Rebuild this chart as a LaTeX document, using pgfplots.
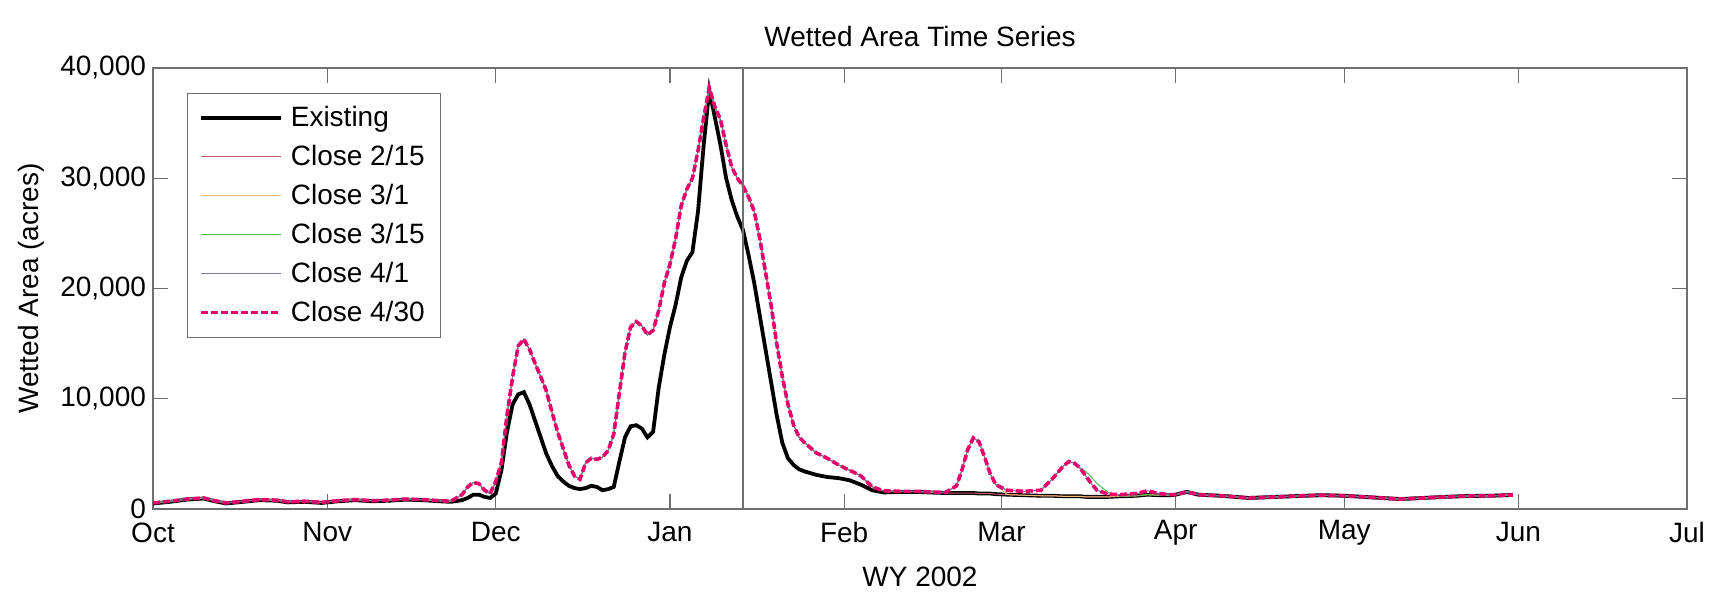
\documentclass[border=0pt]{standalone}
\usepackage{pgfplots}
\pgfplotsset{compat=1.18}
\usepackage{pgfplotstable}
\usepackage{fontspec}
\setmainfont{Liberation Sans}

\definecolor{c0430}{RGB}{230,0,110}
\definecolor{c0215}{RGB}{190,90,110}
\definecolor{c0301}{RGB}{240,190,120}
\definecolor{c0315}{RGB}{80,190,80}
\definecolor{c0401}{RGB}{120,120,150}
\definecolor{axgray}{RGB}{110,110,110}

% day from 1 Oct 2001; E = existing, A..D = close 2/15, 3/1, 3/15, 4/1, P = close 4/30
\pgfplotstableread{
day E A B C D P
0 500 550 550 550 550 550
3 650 700 700 700 700 700
6 850 900 900 900 900 900
9 950 1000 1000 1000 1000 1000
11 700 750 750 750 750 750
13 500 550 550 550 550 550
16 650 700 700 700 700 700
19 800 850 850 850 850 850
22 750 800 800 800 800 800
24 600 650 650 650 650 650
27 650 700 700 700 700 700
30 550 600 600 600 600 600
33 700 750 750 750 750 750
36 800 850 850 850 850 850
39 700 750 750 750 750 750
42 750 800 800 800 800 800
45 850 900 900 900 900 900
48 800 850 850 850 850 850
51 700 750 750 750 750 750
53 650 700 700 700 700 700
55 800 1300 1300 1300 1300 1300
56 1000 2000 2000 2000 2000 2000
57 1300 2400 2400 2400 2400 2400
58 1300 2300 2300 2300 2300 2300
59 1100 1700 1700 1700 1700 1700
60 1000 1400 1400 1400 1400 1400
61 1400 2500 2500 2500 2500 2500
62 3500 4200 4200 4200 4200 4200
63 7000 8500 8500 8500 8500 8500
64 9500 12000 12000 12000 12000 12000
65 10400 14800 14800 14800 14800 14800
66 10600 15400 15400 15400 15400 15400
67 9500 14500 14500 14500 14500 14500
68 8000 13200 13200 13200 13200 13200
69 6500 12000 12000 12000 12000 12000
70 5000 10700 10700 10700 10700 10700
71 3900 8800 8800 8800 8800 8800
72 3000 7000 7000 7000 7000 7000
73 2500 5500 5500 5500 5500 5500
74 2100 4000 4000 4000 4000 4000
75 1900 3000 3000 3000 3000 3000
76 1800 2700 2700 2700 2700 2700
77 1900 4200 4200 4200 4200 4200
78 2100 4600 4600 4600 4600 4600
79 2000 4500 4500 4500 4500 4500
80 1700 4700 4700 4700 4700 4700
81 1800 5300 5300 5300 5300 5300
82 2000 6800 6800 6800 6800 6800
83 4300 10500 10500 10500 10500 10500
84 6500 14200 14200 14200 14200 14200
85 7500 16500 16500 16500 16500 16500
86 7600 17000 17000 17000 17000 17000
87 7300 16600 16600 16600 16600 16600
88 6500 15800 15800 15800 15800 15800
89 7000 16200 16200 16200 16200 16200
90 11000 18000 18000 18000 18000 18000
91 14000 20500 20500 20500 20500 20500
92 16500 22200 22200 22200 22200 22200
93 18500 24500 24500 24500 24500 24500
94 21000 27500 27500 27500 27500 27500
95 22500 29000 29000 29000 29000 29000
96 23300 30000 30000 30000 30000 30000
97 27000 32500 32500 32500 32500 32500
98 33000 35500 35500 35500 35500 35500
99 38000 38200 38200 38200 38200 38200
100 35500 36500 36500 36500 36500 36500
101 33000 35300 35300 35300 35300 35300
102 30000 33000 33000 33000 33000 33000
103 28000 31000 31000 31000 31000 31000
104 26500 30000 30000 30000 30000 30000
105 25300 29300 29300 29300 29300 29300
106 23000 28300 28300 28300 28300 28300
107 20500 27000 27000 27000 27000 27000
108 17500 24500 24500 24500 24500 24500
109 14500 21500 21500 21500 21500 21500
110 11500 18500 18500 18500 18500 18500
111 8500 15000 15000 15000 15000 15000
112 6000 12000 12000 12000 12000 12000
113 4600 9500 9500 9500 9500 9500
114 4000 7600 7600 7600 7600 7600
115 3600 6500 6500 6500 6500 6500
116 3400 6000 6000 6000 6000 6000
118 3100 5100 5100 5100 5100 5100
120 2900 4600 4600 4600 4600 4600
122 2800 4000 4000 4000 4000 4000
124 2600 3500 3500 3500 3500 3500
126 2200 3000 3000 3000 3000 3000
128 1700 2000 2000 2000 2000 2000
130 1500 1650 1650 1650 1650 1650
133 1550 1600 1600 1600 1600 1600
136 1550 1600 1600 1600 1600 1600
138 1500 1500 1550 1550 1550 1550
141 1450 1450 1500 1500 1500 1500
143 1450 1450 2100 2100 2100 2100
144 1450 1450 3600 3600 3600 3600
145 1450 1450 5400 5400 5400 5400
146 1450 1450 6450 6450 6450 6450
147 1400 1400 6100 6100 6100 6100
148 1400 1400 4700 4700 4700 4700
149 1400 1400 3200 3200 3200 3200
150 1350 1350 2200 2200 2200 2200
152 1300 1300 1300 1700 1700 1700
155 1250 1250 1250 1600 1600 1600
158 1200 1200 1200 1700 1700 1700
160 1200 1200 1200 2700 2700 2700
162 1150 1150 1150 3900 3900 3900
163 1150 1150 1150 4300 4300 4300
164 1150 1150 1150 4150 4150 4150
165 1150 1150 1150 3700 3700 3700
166 1100 1100 1100 3400 3000 3000
167 1100 1100 1100 2900 2300 2300
168 1100 1100 1100 2300 1700 1700
170 1100 1100 1100 1500 1350 1350
172 1150 1150 1150 1150 1300 1300
175 1200 1200 1200 1200 1400 1400
177 1300 1300 1300 1300 1650 1650
179 1250 1250 1250 1250 1400 1400
181 1250 1250 1250 1250 1300 1300
182 1300 1300 1300 1300 1300 1300
184 1550 1550 1550 1550 1550 1550
186 1300 1300 1300 1300 1300 1300
190 1200 1200 1200 1200 1200 1200
195 1000 1000 1000 1000 1000 1000
200 1100 1100 1100 1100 1100 1100
205 1200 1200 1200 1200 1200 1200
208 1250 1250 1250 1250 1250 1250
212 1200 1200 1200 1200 1200 1200
217 1050 1050 1050 1050 1050 1050
222 900 900 900 900 900 900
226 1000 1000 1000 1000 1000 1000
230 1100 1100 1100 1100 1100 1100
234 1180 1180 1180 1180 1180 1180
238 1200 1200 1200 1200 1200 1200
242 1270 1270 1270 1270 1270 1270
}\wetted

\begin{document}
\begin{tikzpicture}
\begin{axis}[
    scale only axis,
    width=767pt, height=220.5pt,
    xmin=0, xmax=273, ymin=0, ymax=40000,
    xtick={0,31,61,92,123,151,182,212,243,273},
    xticklabels={Oct,Nov,Dec,Jan,Feb,Mar,Apr,May,Jun,Jul},
    ytick={0,10000,20000,30000,40000},
    scaled y ticks=false,
    /pgf/number format/.cd, 1000 sep={,}, assume math mode=true, /pgfplots/.cd,
    tick align=inside,
    major tick length=7.5pt,
    axis line style={axgray, line width=0.6pt},
    tick style={axgray, line width=0.6pt},
    tick label style={font=\fontsize{14}{16}\selectfont},
    xticklabel style={anchor=center, yshift=-11.7pt},
    every axis title shift=0pt,
    every axis title/.style={at={(0.5,1)}, anchor=center, yshift=15.7pt,
        font=\fontsize{14}{16}\selectfont},
    title={Wetted Area Time Series},
    xlabel={WY 2002},
    xlabel style={font=\fontsize{14}{16}\selectfont, at={(axis description cs:0.5,-0.1542)}, anchor=center},
    ylabel={Wetted Area (acres)},
    ylabel style={font=\fontsize{14}{16}\selectfont, at={(axis description cs:-0.0792,0.5)}, anchor=center},
    legend cell align=left,
    legend image code/.code={\draw[#1] (0pt,0pt) -- (40pt,0pt); \path (42pt,0pt);},
    legend style={at={(0.0222,0.9433)}, anchor=north west, draw=axgray,
        font=\fontsize{14}{16}\selectfont, row sep=3.8pt, inner xsep=5.8pt, inner ysep=4.5pt},
]
\addplot[black, line width=1.9pt] table[x=day, y=E] {\wetted};
\addlegendentry{Existing}
\addplot[c0215, line width=0.5pt] table[x=day, y=A] {\wetted};
\addlegendentry{Close 2/15}
\addplot[c0301, line width=0.5pt] table[x=day, y=B] {\wetted};
\addlegendentry{Close 3/1}
\addplot[c0315, line width=0.5pt] table[x=day, y=C] {\wetted};
\addlegendentry{Close 3/15}
\addplot[c0401, line width=0.5pt] table[x=day, y=D] {\wetted};
\addlegendentry{Close 4/1}
\addplot[c0430, line width=1.8pt, dash pattern=on 3.5pt off 1.5pt] table[x=day, y=P] {\wetted};
\addlegendentry{Close 4/30}
\addplot[axgray, line width=0.6pt, forget plot] coordinates {(105,0) (105,40000)};
\end{axis}
\pgfresetboundingbox
\path ([shift={(-76.5pt,-41.5pt)}]current axis.south west) rectangle ([shift={(22pt,34pt)}]current axis.north east);
\end{tikzpicture}
\end{document}
